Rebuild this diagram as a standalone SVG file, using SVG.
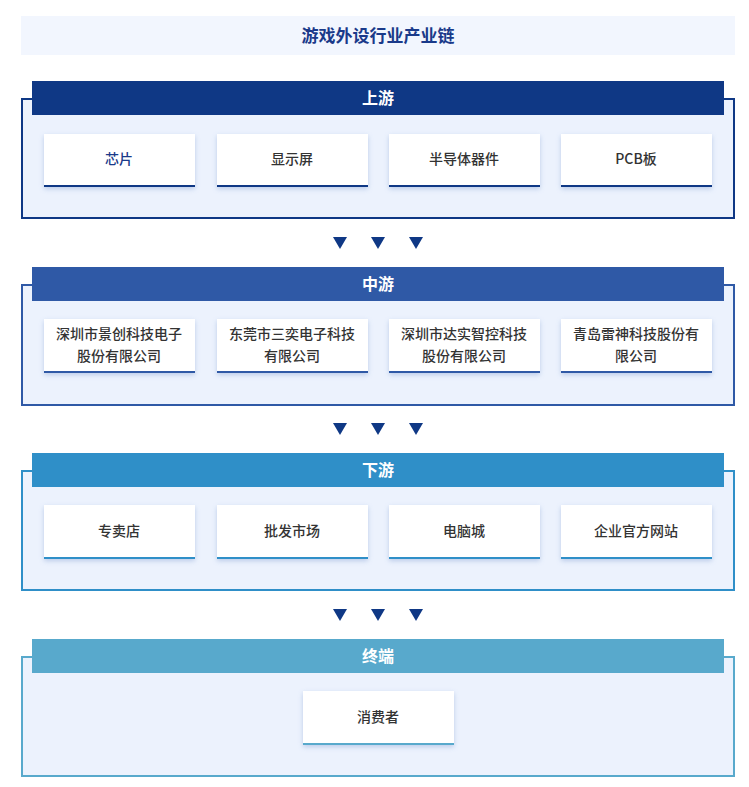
<svg xmlns="http://www.w3.org/2000/svg" width="749" height="787" viewBox="0 0 749 787">
<defs>
<filter id="sh" x="-10%" y="-20%" width="120%" height="150%"><feDropShadow dx="0" dy="2" stdDeviation="2.5" flood-color="#7f9bd0" flood-opacity="0.45"/></filter>
<path id="tri" d="M-7,-6 L7,-6 L0,6 Z" fill="#0f3885"/>
</defs>
<style>
text{font-family:"Noto Sans CJK SC","Liberation Sans",sans-serif;text-anchor:middle}
.t{font-size:17px;font-weight:bold;fill:#1a3a8a}
.h{font-size:16px;font-weight:bold;fill:#fff}
.c{font-size:14px;font-weight:500;fill:#333}
.blue{fill:#1a3a8a}
.box{fill:#ecf2fd;stroke-width:2}
.card{fill:#fff;filter:url(#sh)}
</style>
<rect x="21" y="16" width="714" height="39" fill="#f2f6fe"/>
<text class="t" x="378" y="42">游戏外设行业产业链</text>

<g id="upstream">
<rect class="box" x="22" y="99" width="712" height="119" stroke="#0f3885"/>
<rect x="32" y="81" width="692" height="34" fill="#0f3885"/>
<text class="h" x="378" y="104">上游</text>
<g fill="#0f3885">
<rect class="card" x="44" y="134" width="151" height="53"/><rect x="44" y="185" width="151" height="2"/>
<rect class="card" x="217" y="134" width="151" height="53"/><rect x="217" y="185" width="151" height="2"/>
<rect class="card" x="389" y="134" width="151" height="53"/><rect x="389" y="185" width="151" height="2"/>
<rect class="card" x="561" y="134" width="151" height="53"/><rect x="561" y="185" width="151" height="2"/>
</g>
<text class="c blue" x="119" y="164">芯片</text>
<text class="c" x="292" y="164">显示屏</text>
<text class="c" x="464" y="164">半导体器件</text>
<text class="c" x="636" y="164">PCB板</text>
</g>

<g id="midstream">
<rect class="box" x="22" y="285" width="712" height="120" stroke="#2f59a6"/>
<rect x="32" y="267" width="692" height="34" fill="#2f59a6"/>
<text class="h" x="378" y="290">中游</text>
<g fill="#2f59a6">
<rect class="card" x="44" y="319" width="151" height="54"/><rect x="44" y="371" width="151" height="2"/>
<rect class="card" x="217" y="319" width="151" height="54"/><rect x="217" y="371" width="151" height="2"/>
<rect class="card" x="389" y="319" width="151" height="54"/><rect x="389" y="371" width="151" height="2"/>
<rect class="card" x="561" y="319" width="151" height="54"/><rect x="561" y="371" width="151" height="2"/>
</g>
<text class="c" x="119" y="339">深圳市景创科技电子</text><text class="c" x="119" y="361">股份有限公司</text>
<text class="c" x="292" y="339">东莞市三奕电子科技</text><text class="c" x="292" y="361">有限公司</text>
<text class="c" x="464" y="339">深圳市达实智控科技</text><text class="c" x="464" y="361">股份有限公司</text>
<text class="c" x="636" y="339">青岛雷神科技股份有</text><text class="c" x="636" y="361">限公司</text>
</g>

<g id="downstream">
<rect class="box" x="22" y="471" width="712" height="119" stroke="#2f8fc8"/>
<rect x="32" y="453" width="692" height="34" fill="#2f8fc8"/>
<text class="h" x="378" y="476">下游</text>
<g fill="#2f8fc8">
<rect class="card" x="44" y="505" width="151" height="54"/><rect x="44" y="557" width="151" height="2"/>
<rect class="card" x="217" y="505" width="151" height="54"/><rect x="217" y="557" width="151" height="2"/>
<rect class="card" x="389" y="505" width="151" height="54"/><rect x="389" y="557" width="151" height="2"/>
<rect class="card" x="561" y="505" width="151" height="54"/><rect x="561" y="557" width="151" height="2"/>
</g>
<text class="c" x="119" y="536">专卖店</text>
<text class="c" x="292" y="536">批发市场</text>
<text class="c" x="464" y="536">电脑城</text>
<text class="c" x="636" y="536">企业官方网站</text>
</g>

<g id="terminal">
<rect class="box" x="22" y="657" width="712" height="119" stroke="#58a9cc"/>
<rect x="32" y="639" width="692" height="34" fill="#58a9cc"/>
<text class="h" x="378" y="662">终端</text>
<rect class="card" x="303" y="691" width="151" height="54"/><rect x="303" y="743" width="151" height="2" fill="#58a9cc"/>
<text class="c" x="378" y="722">消费者</text>
</g>

<g id="connectors">
<use href="#tri" x="340" y="243"/><use href="#tri" x="378" y="243"/><use href="#tri" x="416" y="243"/>
<use href="#tri" x="340" y="429"/><use href="#tri" x="378" y="429"/><use href="#tri" x="416" y="429"/>
<use href="#tri" x="340" y="615"/><use href="#tri" x="378" y="615"/><use href="#tri" x="416" y="615"/>
</g>
</svg>
